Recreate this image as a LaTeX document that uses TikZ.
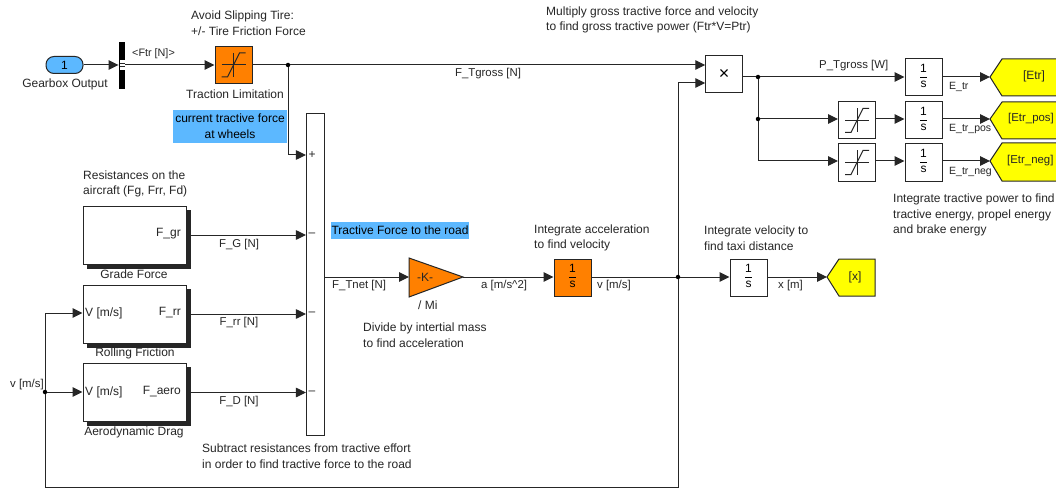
\documentclass[tikz,border=0pt]{standalone}
\usepackage{fontspec}
\setmainfont{Liberation Sans}
\usetikzlibrary{arrows.meta,shapes.geometric,calc}
\definecolor{inkc}{HTML}{262626}
\definecolor{orangeb}{HTML}{FF8000}
\definecolor{blueb}{HTML}{5CB8FF}
\definecolor{yellowb}{HTML}{FFFF00}
\newcommand{\oneovers}{\begin{tabular}{@{}c@{}}1\\[0pt]\hline\noalign{\vskip 1.5pt}s\end{tabular}}
\tikzset{
  wire/.style={draw=inkc,line width=1pt,-{Triangle[length=10pt,width=9.5pt]}},
  plainwire/.style={draw=inkc,line width=1pt},
  block/.style={draw=inkc,line width=1pt,fill=white,inner sep=0pt,minimum width=37pt,minimum height=37pt,font=\fontsize{12}{13}\selectfont},
  orangeblock/.style={block,fill=orangeb},
  subsys/.style={draw=inkc,line width=1pt,fill=white,inner sep=0pt,minimum width=103pt,minimum height=58pt},
  shadowline/.style={draw=black!85,line width=4pt},
  lbl/.style={font=\fontsize{12}{15.5}\selectfont,text=inkc,inner sep=0pt,align=left},
  clbl/.style={lbl,align=center},
  small/.style={font=\fontsize{11.4}{12}\selectfont},
  tiny/.style={font=\fontsize{10.5}{12}\selectfont},
  high/.style={fill=blueb,inner sep=0pt,text=black,font=\fontsize{12}{16}\selectfont,align=center},
  junction/.style={circle,fill=black,inner sep=0pt,minimum size=4.5pt},
  gotoy/.style={draw=inkc,line width=1pt,fill=yellowb},
  satline/.style={draw=inkc,line width=1pt},
}
\newcommand{\satmark}[1]{%
  \draw[satline] ($(#1)+(-12,0)$) -- ($(#1)+(12,0)$);
  \draw[satline] ($(#1)+(0,-12)$) -- ($(#1)+(0,12)$);
  \draw[satline] ($(#1)+(-12,12)$) -- ($(#1)+(-6,12)$) -- ($(#1)+(6,-12)$) -- ($(#1)+(12,-12)$);}
\begin{document}
\begin{tikzpicture}[x=1pt,y=-1pt]
\useasboundingbox (0,0) rectangle (1056,489);
\fill[white] (0,0) rectangle (1056,489);
\clip (0,0) rectangle (1056,489);

% highlights
\node[high,minimum width=114pt,minimum height=33pt] (hcur) at (230,126.5) {current tractive force\\at wheels};
\node[high,minimum width=138pt,minimum height=17pt] (hroad) at (400,230.5) {Tractive Force to the road};

% blocks
\node[draw=inkc,line width=1pt,fill=blueb,rounded corners=8pt,minimum width=37pt,minimum height=17pt,inner sep=0pt,font=\fontsize{12}{13}\selectfont] (inp) at (64.5,65) {1};
\node[fill=black,minimum width=6.5pt,minimum height=47pt,inner sep=0pt] (bus) at (122,65.5) {};
\fill[white] (119.5,60.5) rectangle (124.5,70);
\draw[inkc,line width=0.6pt] (119.5,63.5) -- (124.5,63.5) (119.5,66.5) -- (124.5,66.5);
\node[orangeblock] (tsat) at (233.5,65) {};
\satmark{tsat}
\node[block,minimum width=18.5pt,minimum height=321pt] (sum) at (315.7,274.5) {};
\node[block,minimum width=36.5pt,minimum height=37pt,font=\fontsize{18}{18}\selectfont] (prod) at (724,74.5) {×};

\node[subsys] (gr) at (134.5,235) {};
\node[subsys] (rr) at (134.5,314) {};
\node[subsys] (ae) at (134.5,392.5) {};
\draw[shadowline] (188.5,210) -- (188.5,266.5) -- (87,266.5);
\draw[shadowline] (188.5,289) -- (188.5,345.5) -- (87,345.5);
\draw[shadowline] (188.5,367) -- (188.5,424) -- (87,424);

\coordinate (gainw) at (409,277);
\coordinate (gaine) at (463,277);
\draw[draw=inkc,line width=1pt,fill=orangeb] (409,258) -- (463,277) -- (409,297) -- cycle;
\node[clbl] (gainl) at (425,277) {-K-};

\node[orangeblock] (int1) at (572.5,277.5) {\oneovers};
\node[block] (int2) at (748.5,277.5) {\oneovers};
\draw[gotoy] (827,277) -- (839,259) -- (875,259) -- (875,296) -- (839,296) -- cycle;
\coordinate (gotox) at (827,277);
\node[clbl] (gx) at (855,277) {[x]};

\node[block] (i1) at (923.5,77.5) {\oneovers};
\node[block] (i2) at (923.5,120.5) {\oneovers};
\node[block] (i3) at (923.5,162.5) {\oneovers};
\node[block] (s2) at (857,120.5) {};
\satmark{s2}
\node[block] (s3) at (857,162.5) {};
\satmark{s3}
\draw[gotoy] (990,77) -- (1002,59) -- (1070,59) -- (1070,96) -- (1002,96) -- cycle;
\draw[gotoy] (990,119) -- (1002,102) -- (1070,102) -- (1070,139) -- (1002,139) -- cycle;
\draw[gotoy] (990,161) -- (1002,143) -- (1070,143) -- (1070,181) -- (1002,181) -- cycle;
\coordinate (g1) at (990,77);
\coordinate (g2) at (990,119);
\coordinate (g3) at (990,161);
\node[lbl,anchor=center] (g1l) at (1034,76) {[Etr]};
\node[lbl,anchor=west,font=\fontsize{11.4}{13}\selectfont] (g2l) at (1008,119) {[Etr\_pos]};
\node[lbl,anchor=west,font=\fontsize{11.4}{13}\selectfont] (g3l) at (1007,161) {[Etr\_neg]};

% junctions
\node[junction] (j1) at (288,65) {};
\node[junction] (j2) at (678,277) {};
\node[junction] (j3) at (45,392) {};
\node[junction] (j4) at (758,77) {};
\node[junction] (j5) at (758,119) {};

% connectors
\draw[wire] (inp.east) -- (bus.west |- inp.east);
\draw[wire] (bus.east |- tsat.west) -- (tsat.west);
\draw[plainwire] (tsat.east) -- (j1);
\draw[wire] (j1) -- (j1 -| prod.west);
\draw[wire] (j1) -- (288,155) -- (sum.west |- 0,155);
\draw[wire] (gr.east) -- (sum.west |- gr.east);
\draw[wire] (rr.east) -- (sum.west |- rr.east);
\draw[wire] (ae.east) -- (sum.west |- ae.east);
\draw[wire] (sum.east |- gainw) -- (gainw);
\draw[wire] (gaine) -- (int1.west |- gaine);
\draw[plainwire] (int1.east |- j2) -- (j2);
\draw[wire] (j2) -- (int2.west |- j2);
\draw[wire] (int2.east |- gotox) -- (gotox);
\draw[wire] (j2) -- (678,83) -- (prod.west |- 0,83);
\draw[plainwire] (j2) -- (678,487) -- (45,487) -- (j3);
\draw[wire] (j3) -- (45,313) -- (rr.west |- 0,313);
\draw[wire] (j3) -- (ae.west |- j3);
\draw[plainwire] (prod.east |- j4) -- (j4);
\draw[wire] (j4) -- (i1.west |- j4);
\draw[plainwire] (j4) -- (j5) -- (758,161);
\draw[wire] (j5) -- (s2.west |- j5);
\draw[wire] (758,161) -- (s3.west |- 0,161);
\draw[wire] (s2.east |- g2) -- (i2.west |- g2);
\draw[wire] (s3.east |- g3) -- (i3.west |- g3);
\draw[wire] (i1.east |- g1) -- (g1);
\draw[wire] (i2.east |- g2) -- (g2);
\draw[wire] (i3.east |- g3) -- (g3);

% sum signs
\node[lbl] (sp) at (312,155.5) {+};
\node[lbl] (sm1) at (312,235) {–};
\node[lbl] (sm2) at (312,314) {–};
\node[lbl] (sm3) at (312,393) {–};

% texts
\node[lbl,anchor=west] (t1) at (191,23) {Avoid Slipping Tire:\\+/- Tire Friction Force};
\node[lbl,anchor=west,font=\fontsize{10.8}{12}\selectfont] (t2) at (132,54) {<Ftr [N]>};
\node[clbl] (t3) at (65,84) {Gearbox Output};
\node[clbl] (t4) at (235,94) {Traction Limitation};
\node[clbl,small] (t5) at (488,74) {F\_Tgross [N]};
\node[lbl,anchor=west] (t6) at (546,20) {Multiply gross tractive force and velocity\\to find gross tractive power (Ftr*V=Ptr)};
\node[lbl,anchor=west,small] (t7) at (819,66) {P\_Tgross [W]};
\node[lbl,anchor=west,tiny] (t8) at (949,87) {E\_tr};
\node[lbl,anchor=west,tiny] (t9) at (949,129) {E\_tr\_pos};
\node[lbl,anchor=west,tiny] (t10) at (949,172) {E\_tr\_neg};
\node[lbl,anchor=west] (t11) at (893,215) {Integrate tractive power to find\\tractive energy, propel energy\\and brake energy};
\node[lbl,anchor=west] (t12) at (704,238) {Integrate velocity to\\find taxi distance};
\node[lbl,anchor=west] (t13) at (534,238) {Integrate acceleration\\to find velocity};
\node[lbl,anchor=west,small] (t14) at (332,286) {F\_Tnet [N]};
\node[lbl,anchor=west,small] (t15) at (481,286) {a [m/s\textasciicircum 2]};
\node[lbl,anchor=west,small] (t16) at (597,286) {v [m/s]};
\node[lbl,anchor=west,small] (t17) at (778,286) {x [m]};
\node[lbl,anchor=west] (t18) at (418,305) {/ Mi};
\node[lbl,anchor=west] (t19) at (363,335) {Divide by intertial mass\\to find acceleration};
\node[clbl,small] (t20) at (239,245) {F\_G [N]};
\node[clbl,small] (t21) at (239,323) {F\_rr [N]};
\node[clbl,small] (t22) at (239,402) {F\_D [N]};
\node[lbl,anchor=east] (t23) at (181,234) {F\_gr};
\node[lbl,anchor=east] (t24) at (181,313) {F\_rr};
\node[lbl,anchor=east] (t25) at (181,392) {F\_aero};
\node[lbl,anchor=west] (t26) at (85,313) {V [m/s]};
\node[lbl,anchor=west] (t27) at (85,392) {V [m/s]};
\node[clbl] (t28) at (134,274) {Grade Force};
\node[clbl] (t29) at (135,353) {Rolling Friction};
\node[clbl] (t30) at (134,432) {Aerodynamic Drag};
\node[lbl,anchor=west] (t31) at (83,184) {Resistances on the\\aircraft (Fg, Frr, Fd)};
\node[lbl,anchor=west,small] (t32) at (10,385) {v [m/s]};
\node[lbl,anchor=west] (t33) at (202,456) {Subtract resistances from tractive effort\\in order to find tractive force to the road};
\end{tikzpicture}
\end{document}
